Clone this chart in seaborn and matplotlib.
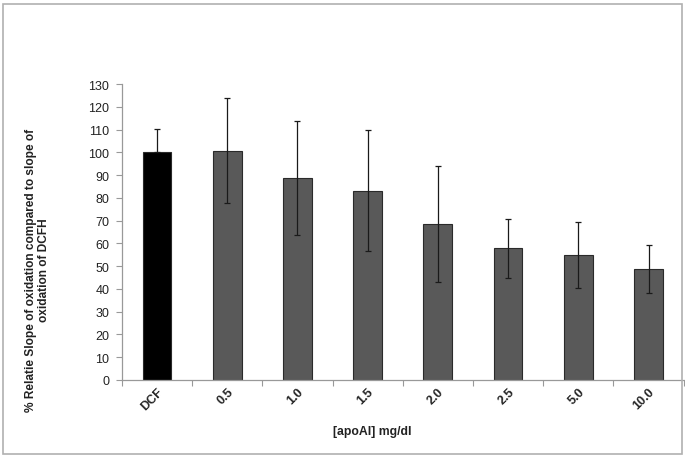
import numpy as np
import pandas as pd
import seaborn as sns
from matplotlib import pyplot as plt
from matplotlib.patches import Rectangle

# 数据
categories = ["DCF", "0.5", "1.0", "1.5", "2.0", "2.5", "5.0", "10.0"]
means = [100.0, 100.7, 88.8, 83.2, 68.5, 57.8, 54.8, 48.8]
err_up = [10.2, 23.0, 25.0, 26.6, 25.6, 13.1, 14.4, 10.5]
err_down = [0.0, 23.0, 25.0, 26.6, 25.6, 13.1, 14.4, 10.5]
bar_colors = ["#000000"] + ["#595959"] * 7

sns.set_theme(style="white")
plt.rcParams["font.family"] = ["Liberation Sans", "DejaVu Sans"]

df = pd.DataFrame({"conc": categories, "slope": means})

fig = plt.figure(figsize=(6.85, 4.6), dpi=100)
ax = fig.add_axes([0.178, 0.172, 0.82, 0.643])

sns.barplot(
    data=df, x="conc", y="slope", hue="conc", palette=bar_colors,
    order=categories, hue_order=categories, legend=False,
    width=0.41, edgecolor="#2a2a2a", linewidth=0.8, ax=ax,
)
ax.errorbar(
    np.arange(len(categories)), means, yerr=[err_down, err_up], fmt="none",
    ecolor="#1a1a1a", elinewidth=0.9, capsize=2.2, capthick=0.9, zorder=5,
)

ax.set_ylim(0, 130)
ax.set_yticks(range(0, 131, 10))
ax.set_xlim(-0.5, len(categories) - 0.5)
ax.set_xlabel("")
ax.set_ylabel("")

# 刻度线在类别之间
ax.set_xticks(np.arange(-0.5, len(categories), 1.0), minor=True)
ax.tick_params(axis="x", which="major", length=0, pad=4)
ax.tick_params(axis="x", which="minor", length=4, width=0.8, color="#999999",
               direction="out", bottom=True)
ax.tick_params(axis="y", length=4, width=0.8, color="#999999",
               direction="out", left=True, labelsize=9, pad=5)
ax.set_xticks(np.arange(len(categories)))
ax.set_xticklabels(categories, rotation=45, ha="right", rotation_mode="anchor",
                   fontsize=9, fontweight="bold")
for lbl in ax.get_yticklabels():
    lbl.set_color("#222222")

sns.despine(ax=ax)
for side in ("left", "bottom"):
    ax.spines[side].set_color("#999999")
    ax.spines[side].set_linewidth(0.9)

fig.text(0.055, 0.413,
         "% Relatie Slope of oxidation compared to slope of\noxidation of DCFH",
         rotation=90, ha="center", va="center", multialignment="center",
         fontsize=8.6, fontweight="bold", color="#222222", linespacing=1.1)
fig.text(0.543, 0.061, "[apoAI] mg/dl", ha="center", va="center",
         fontsize=8.8, fontweight="bold", color="#222222")

# 外框
fig.patches.append(Rectangle((0.005, 0.01), 0.99, 0.98, transform=fig.transFigure,
                             fill=False, edgecolor="#b0b0b0", linewidth=1.2))

fig.savefig("out.png", dpi=100)
